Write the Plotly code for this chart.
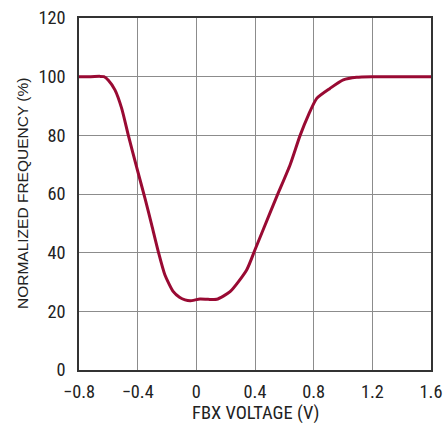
import plotly.graph_objects as go

# FBX voltage (V) and normalized switching frequency (%)
fbx_voltage = [-0.80, -0.72, -0.66, -0.63, -0.60, -0.555, -0.509, -0.464, -0.403, -0.35,
               -0.304, -0.259, -0.214, -0.157, -0.115, -0.077, -0.043, 0.025, 0.08, 0.139,
               0.23, 0.343, 0.40, 0.457, 0.548, 0.639, 0.707, 0.764, 0.821, 0.911,
               1.002, 1.093, 1.2, 1.4, 1.6]
norm_freq = [100.0, 100.0, 100.1, 100.0, 98.8, 95.5, 89.2, 80.1, 68.4, 58.5,
             49.4, 40.3, 32.4, 26.7, 24.8, 23.9, 23.6, 24.2, 24.1, 24.1,
             26.7, 34.1, 41.0, 48.0, 59.1, 69.9, 79.9, 86.9, 92.6, 96.0,
             98.9, 99.8, 100.0, 100.0, 100.0]

x_ticks = [-0.8, -0.4, 0, 0.4, 0.8, 1.2, 1.6]
x_tick_text = ["\u22120.8", "\u22120.4", "0", "0.4", "0.8", "1.2", "1.6"]
y_ticks = [0, 20, 40, 60, 80, 100, 120]

x_title = "FBX VOLTAGE (V)"
y_title = "NORMALIZED FREQUENCY (%)"

narrow_font = "Roboto Condensed, Liberation Sans, sans-serif"
title_font = "Liberation Sans, Arial, sans-serif"

fig = go.Figure()
fig.add_trace(go.Scatter(
    x=fbx_voltage, y=norm_freq, mode="lines",
    line=dict(color="#990a33", width=3, shape="spline", smoothing=0.6),
    hoverinfo="skip", showlegend=False,
))

axis_common = dict(
    showgrid=True, gridcolor="#8c8c8c", gridwidth=1,
    showline=True, linecolor="#333333", linewidth=1.5, mirror=True,
    zeroline=False, ticks="outside", tickcolor="rgba(0,0,0,0)",
    tickfont=dict(family=narrow_font, size=18.3, color="#222"),
    automargin=False,
)

fig.update_layout(
    width=445, height=423,
    margin=dict(l=79, r=14, t=18, b=53),
    paper_bgcolor="white", plot_bgcolor="white",
    font=dict(family=narrow_font, color="#222", size=18),
    xaxis=dict(range=[-0.8, 1.6], tickvals=x_ticks, ticktext=x_tick_text, ticklen=4,
               **axis_common),
    yaxis=dict(range=[0, 120], tickvals=y_ticks, ticklen=8,
               **axis_common),
)

# axis titles placed as annotations relative to the plot area
fig.add_annotation(text=x_title, xref="paper", yref="paper", x=0.5, y=0,
                   xanchor="center", yanchor="middle", yshift=-43, showarrow=False,
                   font=dict(family=narrow_font, size=18.5, color="#222"))
fig.add_annotation(text=y_title, xref="paper", yref="paper", x=0, y=0.5,
                   xanchor="center", yanchor="middle", xshift=-57, textangle=-90,
                   showarrow=False,
                   font=dict(family=title_font, size=15.5, color="#222"))

fig.write_html("out.html")
